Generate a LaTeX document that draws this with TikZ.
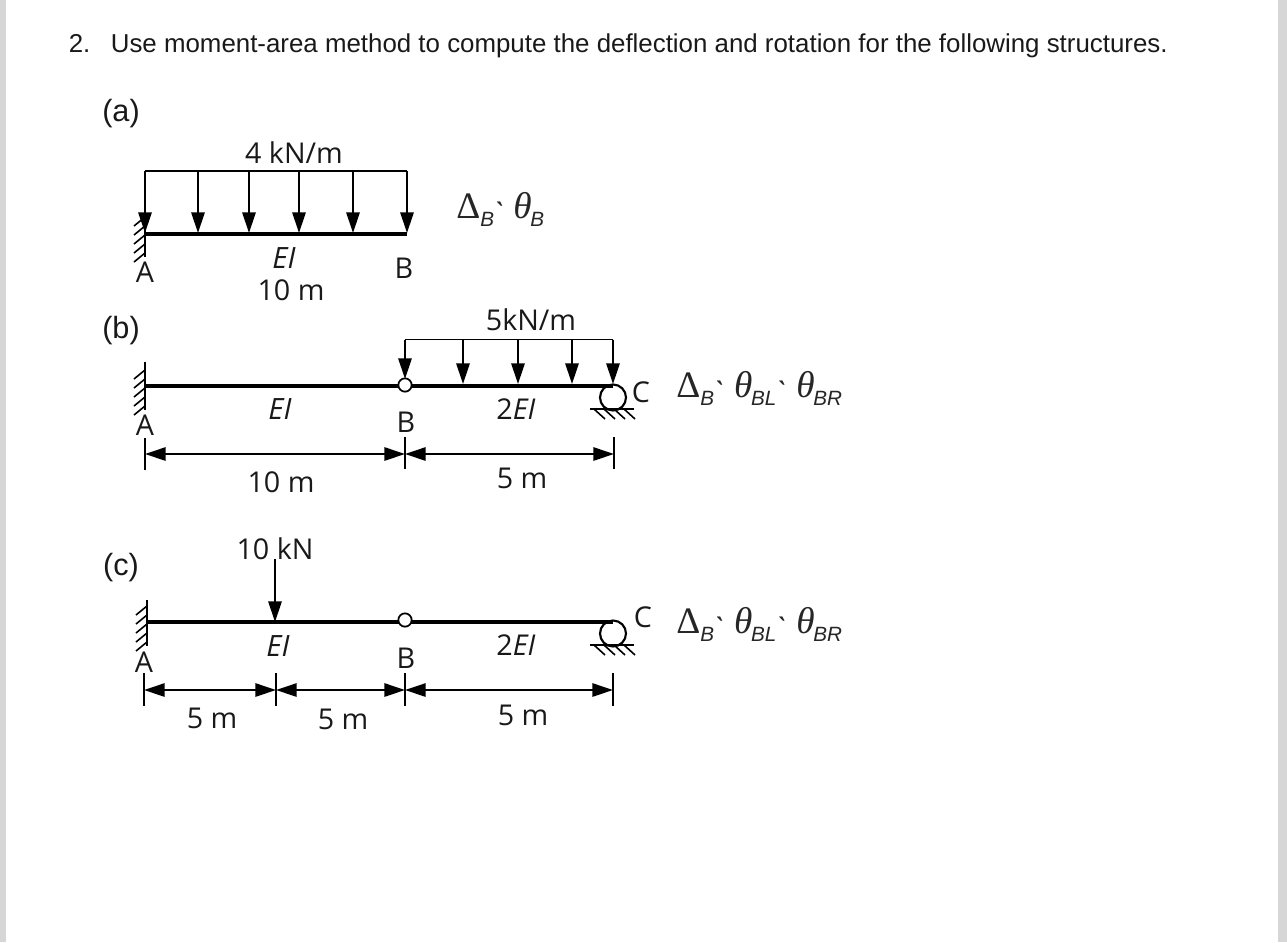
\documentclass[tikz,border=0pt]{standalone}
\usepackage{fontspec}
\setmainfont{Liberation Sans}
\newfontfamily\lblfont{Open Sans}
\newfontfamily\symfont{Liberation Serif}
\usetikzlibrary{arrows.meta}
\tikzset{
  x=0.75pt,y=-0.75pt,
  head/.style={-{Triangle[length=15.5pt,width=10pt]}},
  heads/.style={{Triangle[length=15.5pt,width=10pt]}-{Triangle[length=15.5pt,width=10pt]}},
  beam/.style={line width=2.4pt},
  thin line/.style={line width=1.3pt},
  frame line/.style={line width=1.4pt},
  hatch/.style={line width=1.2pt},
  lbl/.style={font=\lblfont\fontsize{21.5}{21.5}\selectfont,inner sep=0pt,text=black!90},
  eil/.style={font=\lblfont\itshape\fontsize{22}{22}\selectfont,inner sep=0pt,text=black!90},
  txt/.style={font=\fontsize{19.4}{22}\selectfont,inner sep=0pt,text=black!90},
  part/.style={font=\fontsize{23}{23}\selectfont,inner sep=0pt,text=black!90},
  sym/.style={inner sep=0pt,anchor=base west,font=\symfont\fontsize{28}{28}\selectfont,text=black!85},
  hinge/.style={circle,draw,fill=white,line width=1.3pt,minimum size=10pt,inner sep=0pt},
  roller/.style={circle,draw,line width=1.6pt,minimum size=19.5pt,inner sep=0pt},
}
\newcommand{\dlt}{Δ}
\newcommand{\subs}[1]{{\raisebox{-6.5pt}{\fontspec{Liberation Sans}\itshape\fontsize{15.5}{15.5}\selectfont #1}}}
\newcommand{\tick}{\makebox[10pt]{\raisebox{-9.5pt}{\fontspec{Liberation Sans}\fontsize{24}{24}\selectfont\`{}}}}
\begin{document}
\begin{tikzpicture}
\useasboundingbox (0,0) rectangle (1287,942);
\fill[black!16] (0,0) rectangle (6,942);
\fill[black!16] (1278,0) rectangle (1287,942);

\node[txt,anchor=base west] (title) at (68.5,53) {2.\hspace{15.4pt}Use moment-area method to compute the deflection and rotation for the following structures.};
\node[part] (parta) at (121,113.5) {(a)};
\node[part] (partb) at (121,331) {(b)};
\node[part] (partc) at (121,568) {(c)};

% ---------- (a)
\coordinate (aA) at (145,234);
\coordinate (aB) at (407,234);
\coordinate (aTL) at (145,171);
\coordinate (aTR) at (407,171);
\draw[beam] (aA) -- (aB);
\draw[frame line] (aTL) -- (aTR);
\foreach \x in {145,198,249,299,353,407}
  \draw[frame line,head] (\x,171) -- (\x,233);
\draw[hatch] (145,209) -- (145,257);
\foreach \y in {217,226,235,244,253}
  \draw[hatch] (145,\y) -- (134,\y+9);
\node[lbl] (aload) at (294,153) {4 kN/m};
\node[eil] (aEI) at (284,258) {EI};
\node[lbl] (aL) at (291,290) {10 m};
\node[lbl] (aAl) at (145,272) {A};
\node[lbl] (aBl) at (404,268) {B};
\node[sym] (ares) at (456,218) {\dlt\subs{B}\tick\hspace{4.5pt}\textit{θ}\hspace{-1pt}\subs{B}};

% ---------- (b)
\coordinate (bA) at (145,386);
\coordinate (bCtop) at (613,386);
\draw[beam] (bA) -- (bCtop);
\node[hinge] (bB) at (405,385) {};
\node[roller] (bC) at (613,397.5) {};
\draw[frame line] (405,339.5) -- (613,339.5);
\foreach \x in {405,463,518,572,613}
  \draw[frame line,head] (\x,339.5) -- (\x,\ifnum\x=405 379\else 384\fi);
\draw[hatch] (145,362) -- (145,410);
\foreach \y in {370,379,388,397,406}
  \draw[hatch] (145,\y) -- (134,\y+9);
\draw[line width=1.5pt] (590,409) -- (634,409);
\foreach \x in {594,604,614,624}
  \draw[hatch] (\x,409) -- (\x+11,419);
\node[lbl] (bload) at (531,320) {5kN/m};
\node[eil] (bEI1) at (280,409) {EI};
\node[lbl] (bEI2) at (516,409) {2\textit{EI}};
\node[lbl] (bAl) at (145,425) {A};
\node[lbl] (bBl) at (406,422) {B};
\node[lbl] (bCl) at (641,392) {C};
\node[lbl] (bL1) at (281,482) {10 m};
\node[lbl] (bL2) at (522,478) {5 m};
\coordinate (bd1) at (145,454);
\coordinate (bd2) at (405,454);
\coordinate (bd3) at (614,454);
\draw[thin line] (145,438) -- (145,470) (405,437) -- (405,469) (614,437) -- (614,469);
\draw[thin line,heads] (bd1) -- (bd2);
\draw[thin line,heads] (bd2) -- (bd3);
\node[sym] (bres) at (676,397) {\dlt\subs{B}\tick\hspace{5pt}\textit{θ}\hspace{-1pt}\subs{BL}\tick\hspace{5pt}\textit{θ}\hspace{-1pt}\subs{BR}};

% ---------- (c)
\coordinate (cA) at (147,622);
\coordinate (cCtop) at (613,622);
\coordinate (cP) at (275,622);
\coordinate (cPtop) at (275,559);
\draw[beam] (cA) -- (cCtop);
\node[hinge] (cB) at (405,620) {};
\node[roller] (cC) at (613,633.5) {};
\draw[frame line,head] (cPtop) -- (cP);
\draw[hatch] (147,600) -- (147,646);
\foreach \y in {606,615,624,633,642}
  \draw[hatch] (147,\y) -- (136,\y+9);
\draw[line width=1.5pt] (590,645) -- (634,645);
\foreach \x in {594,604,614,624}
  \draw[hatch] (\x,645) -- (\x+11,655);
\node[lbl] (cload) at (275,549) {10 kN};
\node[eil] (cEI1) at (278,646) {EI};
\node[lbl] (cEI2) at (516,645) {2\textit{EI}};
\node[lbl] (cAl) at (144,662) {A};
\node[lbl] (cBl) at (406,658) {B};
\node[lbl] (cCl) at (643,617) {C};
\node[lbl] (cL1) at (212,718) {5 m};
\node[lbl] (cL2) at (343,719) {5 m};
\node[lbl] (cL3) at (523,715) {5 m};
\coordinate (cd1) at (144,690);
\coordinate (cd2) at (276,690);
\coordinate (cd3) at (405,690);
\coordinate (cd4) at (613,690);
\draw[thin line] (144,673) -- (144,706) (276,673) -- (276,706) (405,673) -- (405,706) (613,673) -- (613,706);
\draw[thin line,heads] (cd1) -- (cd2);
\draw[thin line,heads] (cd2) -- (cd3);
\draw[thin line,heads] (cd3) -- (cd4);
\node[sym] (cres) at (676,633) {\dlt\subs{B}\tick\hspace{5pt}\textit{θ}\hspace{-1pt}\subs{BL}\tick\hspace{5pt}\textit{θ}\hspace{-1pt}\subs{BR}};
\end{tikzpicture}
\end{document}
